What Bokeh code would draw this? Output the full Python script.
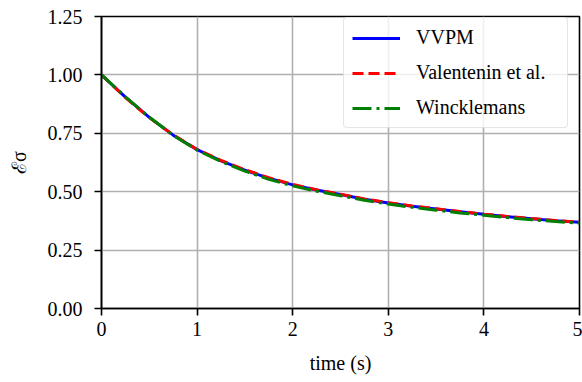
from bokeh.plotting import figure
from bokeh.models import Range1d, FixedTicker, Legend, LegendItem
from bokeh.embed import file_html
from bokeh.resources import INLINE

# Data
time_s = [0.0, 0.25, 0.5, 0.75, 1.0, 1.25, 1.5, 1.75, 2.0, 2.25, 2.5,
          2.75, 3.0, 3.25, 3.5, 3.75, 4.0, 4.25, 4.5, 4.75, 5.0]
vvpm = [1.000, 0.905, 0.818, 0.742, 0.680, 0.632, 0.592, 0.558, 0.529, 0.507, 0.488,
        0.468, 0.452, 0.438, 0.426, 0.414, 0.403, 0.393, 0.384, 0.376, 0.369]
valentenin = [1.000, 0.903, 0.817, 0.743, 0.681, 0.634, 0.594, 0.560, 0.531, 0.508, 0.489,
              0.469, 0.453, 0.439, 0.427, 0.415, 0.404, 0.394, 0.385, 0.377, 0.370]
wincklemans = [1.000, 0.906, 0.819, 0.741, 0.678, 0.629, 0.588, 0.553, 0.525, 0.502, 0.483,
               0.463, 0.447, 0.433, 0.421, 0.409, 0.399, 0.389, 0.380, 0.372, 0.365]
x_ticks = [0, 1, 2, 3, 4, 5]
y_ticks = [0.0, 0.25, 0.5, 0.75, 1.0, 1.25]
series_names = ["VVPM", "Valentenin et al.", "Wincklemans"]

FONT = "Liberation Serif"

p = figure(width=582, height=382, output_backend="svg", toolbar_location=None,
           x_range=Range1d(0, 5), y_range=Range1d(0, 1.25),
           min_border_left=101, min_border_right=3, min_border_top=16, min_border_bottom=74)
p.background_fill_color = "white"
p.border_fill_color = "white"
p.outline_line_color = "black"
p.outline_line_width = 1.6

p.xaxis.ticker = FixedTicker(ticks=x_ticks)
p.yaxis.ticker = FixedTicker(ticks=y_ticks)
p.xaxis.major_label_overrides = {t: str(t) for t in x_ticks}
p.yaxis.major_label_overrides = {t: f"{t:.2f}" for t in y_ticks}

for ax in (p.xaxis[0], p.yaxis[0]):
    ax.major_label_text_font = FONT
    ax.major_label_text_font_size = "20px"
    ax.major_label_text_color = "black"
    ax.axis_line_color = "black"
    ax.axis_line_width = 1.6
    ax.major_tick_line_color = "black"
    ax.major_tick_line_width = 1.6
    ax.major_tick_out = 7
    ax.major_tick_in = 0
    ax.minor_tick_line_color = None
    ax.axis_label_text_font = FONT
    ax.axis_label_text_font_size = "20px"
    ax.axis_label_text_font_style = "normal"
    ax.axis_label_text_color = "black"
p.xaxis.major_label_standoff = 6
p.yaxis.major_label_standoff = 12

p.xaxis.axis_label = "time (s)"
p.xaxis.axis_label_standoff = 13

p.yaxis.axis_label = "ℰσ"
p.yaxis.axis_label_standoff = 15

p.grid.grid_line_color = "#b0b0b0"
p.grid.grid_line_width = 1.6

r1 = p.line(time_s, vvpm, line_color="#0000ff", line_width=3)
r2 = p.line(time_s, valentenin, line_color="#ff0000", line_width=3, line_dash="11 5")
r3 = p.line(time_s, wincklemans, line_color="#008000", line_width=3, line_dash="19 5 3 5")

legend = Legend(items=[LegendItem(label=series_names[0], renderers=[r1]),
                       LegendItem(label=series_names[1], renderers=[r2]),
                       LegendItem(label=series_names[2], renderers=[r3])],
                location=(242, 180))
legend.margin = 0
legend.padding = 8
legend.spacing = 12
legend.glyph_width = 48
legend.glyph_height = 20
legend.label_height = 20
legend.label_width = 143
legend.label_standoff = 16
legend.label_text_font = FONT
legend.label_text_font_size = "20px"
legend.label_text_color = "black"
legend.border_line_color = "#cccccc"
legend.border_line_width = 1.6
legend.background_fill_alpha = 0.8
if "border_radius" in Legend.properties():
    legend.border_radius = 4
p.add_layout(legend)

open("out.html", "w").write(file_html(p, INLINE))
